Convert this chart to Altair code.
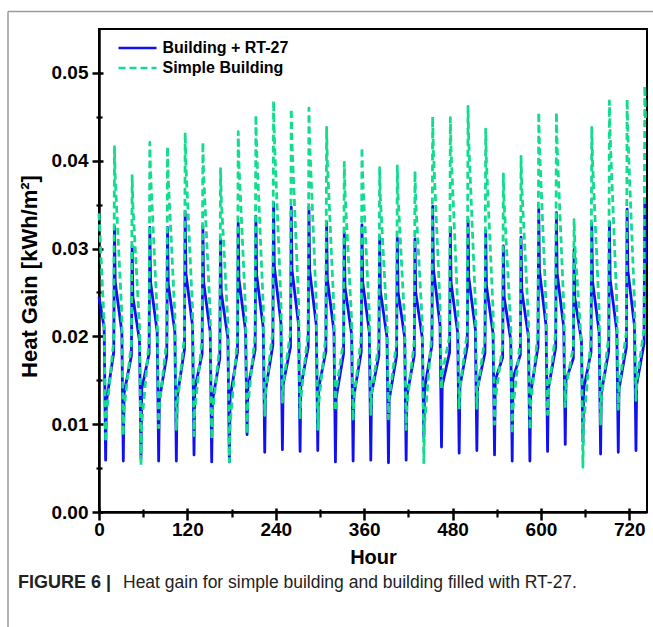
import altair as alt
import pandas as pd

# ---------------- data ----------------
series_names = ["Building + RT-27", "Simple Building"]

# hour-of-day of the key points that shape each daily cycle
key_hours = [7, 9, 10, 20, 21, 22]

blue_start = 0.0245
blue_knee = [0.0210, 0.0205, 0.0195, 0.0205, 0.0205, 0.0212, 0.0205, 0.0198, 0.0206, 0.0210,
             0.0215, 0.0213, 0.0213, 0.0206, 0.0202, 0.0205, 0.0199, 0.0199, 0.0198, 0.0213,
             0.0204, 0.0208, 0.0203, 0.0196, 0.0200, 0.0212, 0.0210, 0.0195, 0.0205, 0.0206, 0.0212]
blue_min = [0.0059, 0.0058, 0.0061, 0.0058, 0.0058, 0.0065, 0.0057, 0.0057, 0.0088, 0.0068,
            0.0071, 0.0069, 0.0070, 0.0057, 0.0058, 0.0059, 0.0056, 0.0059, 0.0085, 0.0074,
            0.0067, 0.0070, 0.0065, 0.0058, 0.0058, 0.0069, 0.0077, 0.0080, 0.0066, 0.0068, 0.0070]
blue_rise = [0.0125, 0.0135, 0.0140, 0.0128, 0.0130, 0.0140, 0.0126, 0.0130, 0.0140, 0.0138,
             0.0145, 0.0142, 0.0140, 0.0130, 0.0132, 0.0135, 0.0128, 0.0132, 0.0140, 0.0144,
             0.0143, 0.0142, 0.0150, 0.0152, 0.0135, 0.0140, 0.0150, 0.0140, 0.0136, 0.0140, 0.0145]
blue_pre = [0.0182, 0.0178, 0.0180, 0.0178, 0.0185, 0.0180, 0.0175, 0.0182, 0.0185, 0.0190,
            0.0188, 0.0188, 0.0183, 0.0180, 0.0182, 0.0178, 0.0178, 0.0178, 0.0190, 0.0182,
            0.0189, 0.0181, 0.0176, 0.0179, 0.0188, 0.0187, 0.0175, 0.0182, 0.0183, 0.0188, 0.0192]
blue_peak = [0.0325, 0.0303, 0.0324, 0.0324, 0.0342, 0.0326, 0.0310, 0.0329, 0.0337, 0.0352,
             0.0347, 0.0347, 0.0330, 0.0318, 0.0327, 0.0313, 0.0312, 0.0311, 0.0348, 0.0324,
             0.0333, 0.0320, 0.0303, 0.0313, 0.0345, 0.0341, 0.0299, 0.0328, 0.0330, 0.0345, 0.0356]
blue_after = [0.0262, 0.0245, 0.0262, 0.0260, 0.0272, 0.0262, 0.0250, 0.0265, 0.0270, 0.0280,
              0.0276, 0.0275, 0.0265, 0.0256, 0.0262, 0.0252, 0.0251, 0.0250, 0.0277, 0.0261,
              0.0267, 0.0258, 0.0245, 0.0252, 0.0275, 0.0272, 0.0244, 0.0263, 0.0265, 0.0275, 0.0283]

green_start = 0.0340
green_knee = [0.0215, 0.0225, 0.0210, 0.0225, 0.0225, 0.0230, 0.0225, 0.0215, 0.0230, 0.0235,
              0.0240, 0.0238, 0.0238, 0.0230, 0.0218, 0.0225, 0.0215, 0.0215, 0.0213, 0.0235,
              0.0235, 0.0238, 0.0230, 0.0212, 0.0220, 0.0235, 0.0235, 0.0190, 0.0230, 0.0238, 0.0240]
green_min = [0.0080, 0.0087, 0.0053, 0.0096, 0.0094, 0.0087, 0.0083, 0.0057, 0.0089, 0.0110,
             0.0125, 0.0106, 0.0094, 0.0115, 0.0104, 0.0111, 0.0106, 0.0094, 0.0056, 0.0140,
             0.0117, 0.0118, 0.0100, 0.0089, 0.0094, 0.0111, 0.0120, 0.0051, 0.0100, 0.0117, 0.0127]
green_rise = [0.0110, 0.0118, 0.0100, 0.0122, 0.0120, 0.0116, 0.0112, 0.0100, 0.0120, 0.0135,
              0.0145, 0.0130, 0.0122, 0.0138, 0.0128, 0.0134, 0.0130, 0.0122, 0.0100, 0.0158,
              0.0140, 0.0140, 0.0128, 0.0118, 0.0122, 0.0134, 0.0142, 0.0100, 0.0128, 0.0140, 0.0148]
green_pre = [0.0195, 0.0192, 0.0195, 0.0195, 0.0200, 0.0196, 0.0190, 0.0198, 0.0202, 0.0206,
             0.0205, 0.0205, 0.0200, 0.0195, 0.0198, 0.0193, 0.0193, 0.0193, 0.0205, 0.0200,
             0.0205, 0.0198, 0.0190, 0.0195, 0.0205, 0.0204, 0.0188, 0.0198, 0.0200, 0.0205, 0.0208]
green_peak = [0.0416, 0.0383, 0.0421, 0.0416, 0.0432, 0.0421, 0.0391, 0.0433, 0.0452, 0.0468,
              0.0459, 0.0460, 0.0438, 0.0398, 0.0415, 0.0392, 0.0394, 0.0388, 0.0450, 0.0449,
              0.0462, 0.0436, 0.0385, 0.0405, 0.0455, 0.0455, 0.0333, 0.0438, 0.0468, 0.0470, 0.0485]
green_after = [0.0380, 0.0350, 0.0385, 0.0380, 0.0395, 0.0385, 0.0357, 0.0396, 0.0413, 0.0428,
               0.0420, 0.0421, 0.0400, 0.0364, 0.0380, 0.0358, 0.0360, 0.0355, 0.0411, 0.0410,
               0.0422, 0.0398, 0.0352, 0.0370, 0.0416, 0.0416, 0.0305, 0.0400, 0.0428, 0.0430, 0.0444]

x_major = [0, 120, 240, 360, 480, 600, 720]
x_minor = [60, 180, 300, 420, 540, 660]
y_major = [0.0, 0.01, 0.02, 0.03, 0.04, 0.05]
y_minor = [0.005, 0.015, 0.025, 0.035, 0.045]

BLUE = "#1010f4"
GREEN = "#12dc8e"

# ---------------- table ----------------
rows = []
for name, start, arrays in [
    (series_names[0], blue_start, [blue_knee, blue_min, blue_rise, blue_pre, blue_peak, blue_after]),
    (series_names[1], green_start, [green_knee, green_min, green_rise, green_pre, green_peak, green_after]),
]:
    rows.append({"Hour": 0, "gain": start, "series": name})
    for d in range(31):
        for h, arr in zip(key_hours, arrays):
            rows.append({"Hour": 24 * d + h, "gain": arr[d], "series": name})
df = pd.DataFrame(rows)

FONT = "Liberation Sans"
xscale = alt.Scale(domain=[0, 744], nice=False, zero=False)
yscale = alt.Scale(domain=[0, 0.055], nice=False)

legend = alt.Legend(
    title=None, orient="none", legendX=27.5, legendY=8, symbolType="M-2,0H2",
    symbolSize=361, symbolStrokeWidth=2.6, labelFont=FONT, labelFontSize=16,
    labelFontWeight="bold", labelColor="black", labelOffset=14, padding=0, rowPadding=1,
)

lines = alt.Chart(df).mark_line(strokeWidth=2.8, strokeJoin="round").encode(
    x=alt.X("Hour:Q", scale=xscale, axis=alt.Axis(
        orient="bottom", values=x_major, format="d", labelFont=FONT, labelFontSize=19,
        labelFontWeight="bold", labelColor="black", labelPadding=8, labelFlush=False,
        ticks=False, tickSize=0, domainColor="black", domainWidth=2.5, grid=False,
        title="Hour", titleFont=FONT, titleFontSize=20, titleFontWeight="bold",
        titleColor="black", titlePadding=8)),
    y=alt.Y("gain:Q", scale=yscale, axis=alt.Axis(
        orient="left", values=y_major, format=".2f", labelFont=FONT, labelFontSize=19,
        labelFontWeight="bold", labelColor="black", labelPadding=11, labelFlush=False,
        ticks=False, tickSize=0, domainColor="black", domainWidth=2.5, grid=False,
        title="Heat Gain [kWh/m²]", titleFont=FONT, titleFontSize=22, titleFontWeight="bold",
        titleColor="black", titlePadding=10, titleY=247)),
    color=alt.Color("series:N", scale=alt.Scale(domain=series_names, range=[BLUE, GREEN]), legend=legend),
    strokeDash=alt.StrokeDash("series:N", scale=alt.Scale(domain=series_names, range=[[1, 0], [7, 4]]), legend=legend),
)

def tick_layer(xvals, yvals, xsize, xoff, ysize, yoff, width):
    return alt.Chart(df).mark_point(opacity=0, size=1).encode(
        x=alt.X("Hour:Q", scale=xscale, axis=alt.Axis(
            orient="bottom", values=xvals, labels=False, domain=False, ticks=True,
            tickSize=xsize, offset=xoff, tickWidth=width, tickColor="black", grid=False, title=None)),
        y=alt.Y("gain:Q", scale=yscale, axis=alt.Axis(
            orient="left", values=yvals, labels=False, domain=False, ticks=True,
            tickSize=ysize, offset=yoff, tickWidth=width, tickColor="black", grid=False, title=None)),
    )

major = tick_layer(x_major, y_major, 12, -4, 11, -4, 2.5)
minor = tick_layer(x_minor, y_minor, 8, -3, 6, -3, 2.2)

one = pd.DataFrame({"k": [0]})
frame_v = alt.Chart(one).mark_rule(color="#9b9b9b", strokeWidth=1.5).encode(
    x=alt.value(-91), y=alt.value(-17.5), y2=alt.value(600))
frame_h = alt.Chart(one).mark_rule(color="#9b9b9b", strokeWidth=1.5).encode(
    x=alt.value(-91), x2=alt.value(560), y=alt.value(-17.5))
cap_bold = alt.Chart(one).mark_text(
    align="left", baseline="middle", font=FONT, fontSize=18,
    fontWeight="bold", color="#222222", text="FIGURE 6 |").encode(
    x=alt.value(-81), y=alt.value(554))
cap_text = alt.Chart(one).mark_text(
    align="left", baseline="middle", font=FONT, fontSize=17.5,
    color="#222222", text="Heat gain for simple building and building filled with RT-27.").encode(
    x=alt.value(24), y=alt.value(554))

chart = alt.layer(lines, major, minor, frame_v, frame_h, cap_bold, cap_text).resolve_axis(
    x="independent", y="independent"
).properties(
    width=548, height=483,
    autosize=alt.AutoSizeParams(type="none"),
    padding={"left": 99, "top": 29, "right": 6, "bottom": 115},
    background="white",
).configure_view(stroke="black", strokeWidth=2)

chart.save("out.html", embed_options={"renderer": "svg", "actions": False})
